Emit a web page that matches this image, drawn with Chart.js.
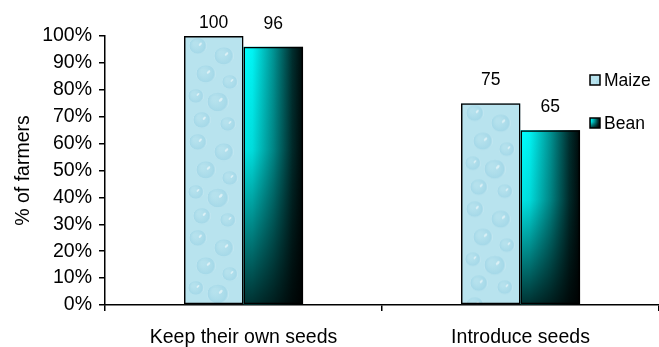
<!DOCTYPE html>
<html>
<head>
<meta charset="utf-8">
<script src="https://cdn.jsdelivr.net/npm/chart.js@4/dist/chart.umd.min.js"></script>
<style>
  html, body { margin: 0; padding: 0; background: #ffffff; }
  #wrap { width: 659px; height: 347px; position: relative; }
</style>
</head>
<body>
<div id="wrap"><canvas id="c"></canvas></div>
<script>
// ---- data ----
const categories = ['Keep their own seeds', 'Introduce seeds'];
const seriesNames = ['Maize', 'Bean'];
const maizeValues = [100, 75];
const beanValues = [96, 65];
const yTickValues = [0, 10, 20, 30, 40, 50, 60, 70, 80, 90, 100];

const FONT = "'Liberation Sans', Arial, sans-serif";
const AXIS_SIZE = 19.5;
const SMALL_SIZE = 17.5;

// ---- water-drop texture for the Maize bars ----
function makeDropTexture() {
  const tile = document.createElement('canvas');
  tile.width = 58; tile.height = 96;
  const g = tile.getContext('2d');
  g.fillStyle = '#b8e3ee';
  g.fillRect(0, 0, tile.width, tile.height);
  const drops = [
    [14, 10, 9], [40, 20, 10], [22, 38, 10], [46, 46, 8], [12, 60, 8],
    [34, 66, 11], [18, 84, 9], [44, 88, 8]
  ];
  for (const [x, y, r] of drops) {
    const rg = g.createRadialGradient(x - r * 0.3, y - r * 0.3, r * 0.2, x, y, r);
    rg.addColorStop(0, 'rgba(160,214,230,0.12)');
    rg.addColorStop(0.8, 'rgba(138,202,224,0.4)');
    rg.addColorStop(1, 'rgba(220,242,248,0.55)');
    g.fillStyle = rg;
    g.beginPath(); g.ellipse(x, y, r, r * 0.85, 0, 0, Math.PI * 2); g.fill();
    g.fillStyle = 'rgba(255,255,255,0.55)';
    g.beginPath(); g.ellipse(x + r * 0.25, y - r * 0.2, r * 0.22, r * 0.12, -0.8, 0, Math.PI * 2); g.fill();
  }
  return tile;
}
const dropTile = makeDropTexture();

function fillMaize(ctx, left, top, w, h) {
  const pat = ctx.createPattern(dropTile, 'repeat');
  ctx.save();
  ctx.beginPath(); ctx.rect(left, top, w, h); ctx.clip();
  ctx.translate(left, top);
  ctx.fillStyle = pat;
  ctx.fillRect(0, 0, w, h);
  ctx.restore();
}

function fillBean(ctx, left, top, w, h) {
  ctx.save();
  const hg = ctx.createLinearGradient(left, 0, left + w, 0);
  hg.addColorStop(0, '#00ffff');
  hg.addColorStop(0.15, '#00f4f4');
  hg.addColorStop(0.5, '#009494');
  hg.addColorStop(0.82, '#002e2e');
  hg.addColorStop(1, '#000808');
  ctx.fillStyle = hg;
  ctx.fillRect(left, top, w, h);
  const vg = ctx.createLinearGradient(0, top, 0, top + h);
  vg.addColorStop(0, 'rgba(0,0,0,0)');
  vg.addColorStop(0.4, 'rgba(0,0,0,0.1)');
  vg.addColorStop(1, 'rgba(0,0,0,0.8)');
  ctx.fillStyle = vg;
  ctx.fillRect(left, top, w, h);
  ctx.restore();
}

const fillers = [fillMaize, fillBean];

// fills bars before Chart.js strokes their outlines
const barFillPlugin = {
  id: 'barFill',
  beforeDatasetsDraw(chart) {
    const ctx = chart.ctx;
    chart.data.datasets.forEach((ds, di) => {
      const meta = chart.getDatasetMeta(di);
      meta.data.forEach(el => {
        const { x, y, base, width } = el.getProps(['x', 'y', 'base', 'width'], true);
        fillers[di](ctx, x - width / 2, y, width, base - y);
      });
    });
  }
};

// value labels above each bar
const valueLabelPlugin = {
  id: 'valueLabels',
  afterDatasetsDraw(chart) {
    const ctx = chart.ctx;
    ctx.save();
    ctx.font = SMALL_SIZE + 'px ' + FONT;
    ctx.fillStyle = '#000';
    ctx.textAlign = 'center';
    ctx.textBaseline = 'middle';
    chart.data.datasets.forEach((ds, di) => {
      const meta = chart.getDatasetMeta(di);
      meta.data.forEach((el, i) => {
        const { x, y } = el.getProps(['x', 'y'], true);
        ctx.fillText(String(ds.data[i]), x, Math.max(y - 23, 23));
      });
    });
    ctx.restore();
  }
};

// legend at the right, overlapping the plot area
const sideLegendPlugin = {
  id: 'sideLegend',
  afterDraw(chart) {
    const ctx = chart.ctx;
    const rows = [80, 123];
    ctx.save();
    ctx.font = SMALL_SIZE + 'px ' + FONT;
    ctx.textBaseline = 'middle';
    ctx.textAlign = 'left';
    chart.data.datasets.forEach((ds, di) => {
      const cy = rows[di];
      const bx = 590, bs = 10;
      fillers[di](ctx, bx, cy - bs / 2, bs, bs);
      ctx.strokeStyle = '#000';
      ctx.lineWidth = 1.5;
      ctx.strokeRect(bx, cy - bs / 2, bs, bs);
      ctx.fillStyle = '#000';
      ctx.fillText(ds.label, bx + 14, cy + 1);
    });
    ctx.restore();
  }
};

const barStyle = {
  backgroundColor: 'rgba(0,0,0,0)',
  borderColor: '#000000',
  borderWidth: 1.5,
  borderSkipped: false,
  categoryPercentage: 0.43,
  barPercentage: 1.0
};

new Chart(document.getElementById('c'), {
  type: 'bar',
  data: {
    labels: categories,
    datasets: [
      Object.assign({ label: seriesNames[0], data: maizeValues }, barStyle),
      Object.assign({ label: seriesNames[1], data: beanValues }, barStyle)
    ]
  },
  options: {
    responsive: true,
    maintainAspectRatio: false,
    animation: false,
    devicePixelRatio: 1,
    layout: { padding: { top: 36, right: 0, left: 0, bottom: 0 } },
    plugins: {
      colors: { enabled: false },
      legend: { display: false },
      tooltip: { enabled: false }
    },
    scales: {
      x: {
        afterFit(s) { s.height = 42; },
        grid: { display: true, drawOnChartArea: false, drawTicks: true, tickLength: 6, color: '#000', lineWidth: 1.5, offset: true },
        border: { display: true, color: '#000', width: 1.5 },
        ticks: { color: '#000', font: { family: FONT, size: AXIS_SIZE }, padding: 15, maxRotation: 0 }
      },
      y: {
        min: 0,
        max: 100,
        afterFit(s) { s.width = 105; },
        afterBuildTicks(s) { s.ticks = yTickValues.map(v => ({ value: v })); },
        grid: { display: true, drawOnChartArea: false, drawTicks: true, tickLength: 6, color: '#000', lineWidth: 1.5 },
        border: { display: true, color: '#000', width: 1.5 },
        ticks: { color: '#000', font: { family: FONT, size: AXIS_SIZE }, padding: 7, callback: v => v + '%' },
        title: { display: true, text: '% of farmers', color: '#000', font: { family: FONT, size: AXIS_SIZE }, padding: { top: 12, bottom: 0 } }
      }
    }
  },
  plugins: [barFillPlugin, valueLabelPlugin, sideLegendPlugin]
});
</script>
</body>
</html>
